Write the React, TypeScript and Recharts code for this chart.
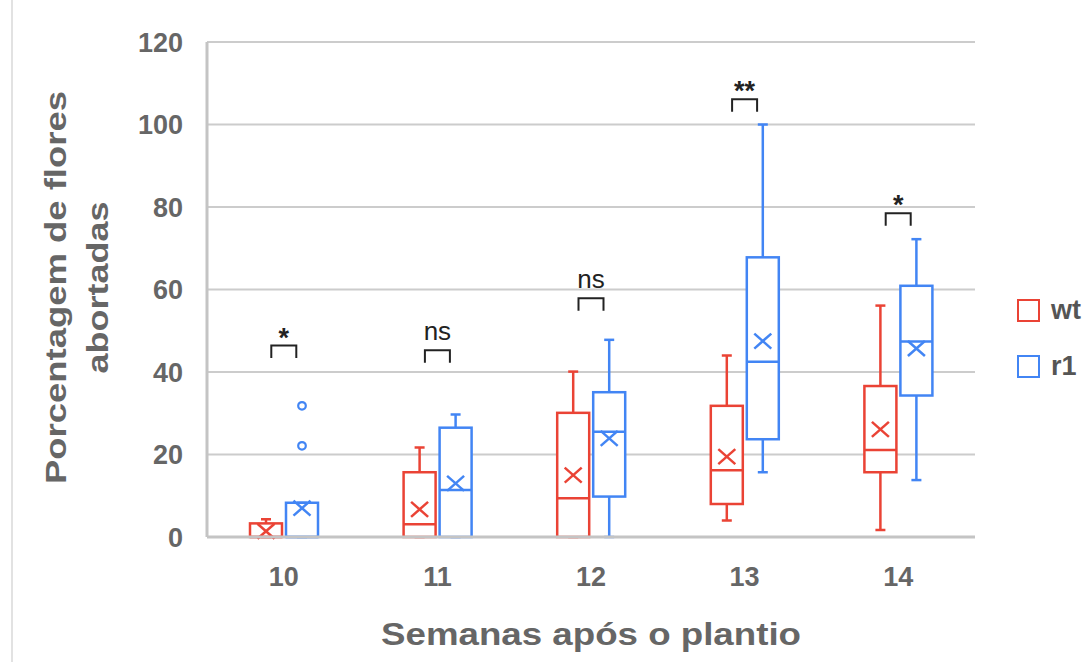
import React from "react";
import {
  ComposedChart,
  Bar,
  Scatter,
  XAxis,
  YAxis,
  CartesianGrid,
} from "recharts";

const weeks = ["10", "11", "12", "13", "14"];

const wtMin = [0, 0, 0, 4.0, 1.7];
const wtQ1 = [0, 0, 0, 8.0, 15.7];
const wtMedian = [0, 3.1, 9.4, 16.2, 21.1];
const wtQ3 = [3.3, 15.7, 30.1, 31.8, 36.6];
const wtMax = [4.3, 21.7, 40.1, 44.0, 56.1];
const wtMean = [1.4, 6.7, 15.0, 19.5, 26.1];

const r1Min = [0, 0, 0, 15.7, 13.8];
const r1Q1 = [0, 0, 9.8, 23.7, 34.3];
const r1Median = [0, 11.4, 25.5, 42.5, 47.4];
const r1Q3 = [8.3, 26.5, 35.1, 67.8, 60.9];
const r1Max = [8.3, 29.7, 47.8, 100, 72.2];
const r1Mean = [7.0, 13.0, 23.9, 47.5, 45.7];
const r1Outliers = [[31.8, 22.1], [], [], [], []];

const sigHeight = [46.4, 45.3, 57.9, 106.1, 78.5];
const sigLabels = ["*", "ns", "ns", "**", "*"];

const yTicks = [0, 20, 40, 60, 80, 100, 120];

const RED = "#EA4335";
const BLUE = "#4285F4";
const TEXT = "#666666";
const FONT = "'Liberation Sans', Arial, sans-serif";

const data = weeks.map((w, i) => ({
  week: w,
  wt: { min: wtMin[i], q1: wtQ1[i], median: wtMedian[i], q3: wtQ3[i], max: wtMax[i], mean: wtMean[i], out: [] as number[] },
  r1: { min: r1Min[i], q1: r1Q1[i], median: r1Median[i], q3: r1Q3[i], max: r1Max[i], mean: r1Mean[i], out: r1Outliers[i] },
  sig: sigHeight[i],
  sigLabel: sigLabels[i],
}));

const makeBox = (key: "wt" | "r1", color: string) => (props: any) => {
  const { x, y, width, height, payload } = props;
  const s = payload[key];
  const k = height / (s.max - s.min);
  const py = (v: number) => y + height - (v - s.min) * k;
  const cx = x + width / 2;
  const sw = 2.5;
  const cap = 5;
  const mx = 8.5;
  const my = 7.5;
  const meanY = py(s.mean);
  return (
    <g>
      <line x1={cx} x2={cx} y1={py(s.max)} y2={py(s.q3)} stroke={color} strokeWidth={sw} />
      <line x1={cx} x2={cx} y1={py(s.q1)} y2={py(s.min)} stroke={color} strokeWidth={sw} />
      <line x1={cx - cap} x2={cx + cap} y1={py(s.max)} y2={py(s.max)} stroke={color} strokeWidth={sw} />
      <line x1={cx - cap} x2={cx + cap} y1={py(s.min)} y2={py(s.min)} stroke={color} strokeWidth={sw} />
      <rect
        x={x + 1}
        y={py(s.q3)}
        width={width - 2}
        height={py(s.q1) - py(s.q3)}
        fill="#fff"
        stroke={color}
        strokeWidth={sw}
      />
      <line x1={x + 1} x2={x + width - 1} y1={py(s.median)} y2={py(s.median)} stroke={color} strokeWidth={sw} />
      <line x1={cx - mx} x2={cx + mx} y1={meanY - my} y2={meanY + my} stroke={color} strokeWidth={sw} />
      <line x1={cx - mx} x2={cx + mx} y1={meanY + my} y2={meanY - my} stroke={color} strokeWidth={sw} />
      {s.out.map((v: number, i: number) => (
        <circle key={i} cx={cx} cy={py(v)} r={3.8} fill="#fff" stroke={color} strokeWidth={2.2} />
      ))}
    </g>
  );
};

const SigMark = (props: any) => {
  const { cx, cy, payload } = props;
  const half = 12.5;
  const leg = 12.5;
  const isStar = payload.sigLabel.indexOf("*") >= 0;
  return (
    <g>
      <path
        d={`M${cx - half},${cy + leg} L${cx - half},${cy} L${cx + half},${cy} L${cx + half},${cy + leg}`}
        fill="none"
        stroke="#222"
        strokeWidth={2}
      />
      <text
        x={cx}
        y={isStar ? cy + 1 : cy - 10}
        textAnchor="middle"
        fontFamily={FONT}
        fontSize={isStar ? 27 : 26}
        fontWeight={isStar ? 700 : 400}
        fill="#222"
      >
        {payload.sigLabel}
      </text>
    </g>
  );
};

const XLabel = (props: any) => {
  const { viewBox } = props;
  const cx = viewBox.x + viewBox.width / 2;
  return (
    <text
      x={cx}
      y={645}
      textAnchor="middle"
      fontFamily={FONT}
      fontSize={31}
      fontWeight={700}
      fill={TEXT}
      textLength={420}
      lengthAdjust="spacingAndGlyphs"
    >
      Semanas após o plantio
    </text>
  );
};

const YLabel = (props: any) => {
  const { viewBox } = props;
  const cy = viewBox.y + viewBox.height / 2 - 2;
  return (
    <g>
      <text
        transform={`translate(66, ${cy}) rotate(-90)`}
        textAnchor="middle"
        fontFamily={FONT}
        fontSize={30}
        fontWeight={700}
        fill={TEXT}
        textLength={393}
        lengthAdjust="spacingAndGlyphs"
      >
        Porcentagem de flores
      </text>
      <text
        transform={`translate(108, ${cy}) rotate(-90)`}
        textAnchor="middle"
        fontFamily={FONT}
        fontSize={30}
        fontWeight={700}
        fill={TEXT}
        textLength={172}
        lengthAdjust="spacingAndGlyphs"
      >
        abortadas
      </text>
    </g>
  );
};

const legendItems = [
  { name: "wt", color: RED },
  { name: "r1", color: BLUE },
];

export default function App() {
  return (
    <div style={{ position: "absolute", left: 0, top: 0, width: 1090, height: 662, background: "#fff" }}>
      <div style={{ position: "absolute", left: 11, top: 0, width: 2, height: 662, background: "#e2e2e2" }} />
      <ComposedChart
        width={1090}
        height={662}
        data={data}
        margin={{ top: 42, right: 115, bottom: 0, left: 0 }}
        barSize={34}
        barGap={2}
      >
        <CartesianGrid vertical={false} stroke="#cccccc" strokeWidth={2} />
        <XAxis
          dataKey="week"
          height={125}
          axisLine={{ stroke: "#c4c4c4", strokeWidth: 3 }}
          tickLine={false}
          tickMargin={24}
          tick={{ fontSize: 27, fontWeight: 700, fill: TEXT, fontFamily: FONT }}
          label={{ content: XLabel }}
        />
        <YAxis
          width={207}
          domain={[0, 120]}
          ticks={yTicks}
          interval={0}
          axisLine={{ stroke: "#c4c4c4", strokeWidth: 3 }}
          tickLine={false}
          tickMargin={18}
          tick={{ fontSize: 27, fontWeight: 700, fill: TEXT, fontFamily: FONT }}
          label={{ content: YLabel }}
        />
        <Bar
          dataKey={(d: any) => [d.wt.min, d.wt.max]}
          name="wt"
          shape={makeBox("wt", RED)}
          activeBar={false}
          isAnimationActive={false}
        />
        <Bar
          dataKey={(d: any) => [d.r1.min, d.r1.max]}
          name="r1"
          shape={makeBox("r1", BLUE)}
          activeBar={false}
          isAnimationActive={false}
        />
        <Scatter dataKey="sig" shape={SigMark} isAnimationActive={false} />
      </ComposedChart>
      <div style={{ position: "absolute", left: 1017, top: 299 }}>
        {legendItems.map((it) => (
          <div key={it.name} style={{ display: "flex", alignItems: "center", height: 23, marginBottom: 33 }}>
            <div style={{ width: 19, height: 19, border: `2.5px solid ${it.color}`, marginRight: 11 }} />
            <span style={{ fontFamily: FONT, fontWeight: 700, fontSize: 27, color: "#555" }}>{it.name}</span>
          </div>
        ))}
      </div>
    </div>
  );
}
